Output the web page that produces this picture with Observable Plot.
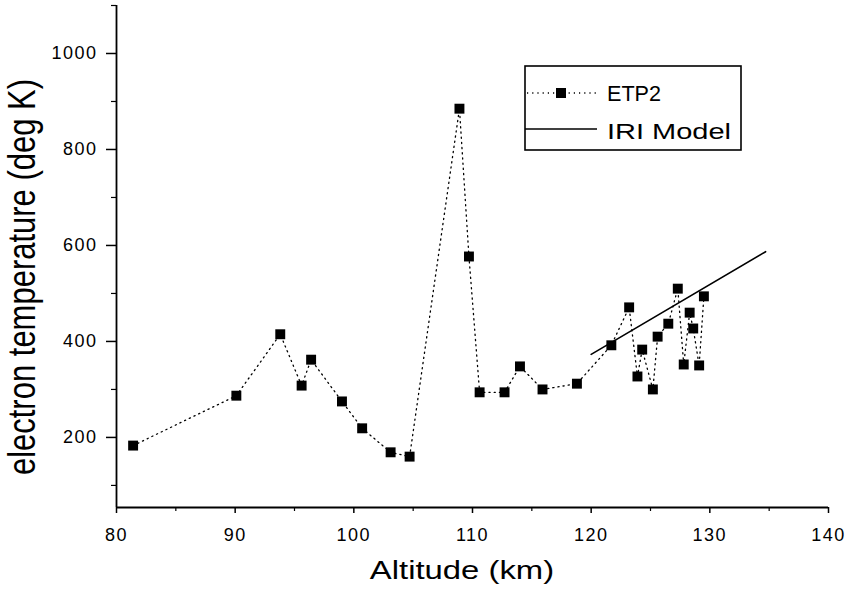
<!DOCTYPE html>
<html>
<head>
<meta charset="utf-8">
<script src="https://cdn.jsdelivr.net/npm/d3@7"></script>
<script src="https://cdn.jsdelivr.net/npm/@observablehq/plot@0.6"></script>
<style>
  html, body { margin: 0; padding: 0; background: white; }
  #chart { position: relative; width: 849px; height: 589px; }
</style>
</head>
<body>
<div id="chart"></div>
<script>
// ETP2 measurements
const altitude = [81.4, 90.1, 93.8, 95.6, 96.4, 99.0, 100.7, 103.1, 104.7, 108.9, 109.7, 110.6, 112.7, 114.0, 115.9, 118.8, 121.7, 123.2, 123.9, 124.3, 125.2, 125.6, 126.5, 127.3, 127.8, 128.3, 128.6, 129.1, 129.5];
const temperature = [183, 287, 415, 308, 362, 275, 219, 169, 160, 885, 577, 294, 294, 348, 300, 312, 392, 471, 327, 383, 300, 410, 437, 510, 352, 460, 427, 350, 494];
// IRI model
const iriAltitude = [120, 134.7];
const iriTemperature = [373, 587];
// ticks
const xTicks = [80, 90, 100, 110, 120, 130, 140];
const xMinor = [85, 95, 105, 115, 125, 135];
const yTicks = [200, 400, 600, 800, 1000];
const yMinor = [100, 300, 500, 700, 900, 1100];
const seriesNames = ["ETP2", "IRI Model"];
const xTitle = "Altitude (km)";
const yTitle = "electron temperature (deg K)";

const etp = altitude.map((a, i) => ({a, t: temperature[i]}));
const iri = iriAltitude.map((a, i) => ({a, t: iriTemperature[i]}));

const font = "'Liberation Sans', Arial, sans-serif";

const plot = Plot.plot({
  width: 849,
  height: 589,
  marginLeft: 116,
  marginRight: 21,
  marginTop: 5,
  marginBottom: 82,
  style: {fontFamily: font, background: "white", color: "black", overflow: "visible"},
  x: {domain: [80, 140]},
  y: {domain: [54, 1100]},
  marks: [
    Plot.axisX({ticks: xTicks, tickSize: 6, tickPadding: 15, fontSize: 18, tickFormat: d => String(d), label: null, strokeWidth: 1.5}),
    Plot.axisX({ticks: xMinor, tickSize: 4, tickFormat: () => "", label: null, strokeWidth: 1.2}),
    Plot.axisY({ticks: yTicks, tickSize: 10, tickPadding: 9, fontSize: 18, tickFormat: d => String(d), label: null, strokeWidth: 1.5}),
    Plot.axisY({ticks: yMinor, tickSize: 5, tickFormat: () => "", label: null, strokeWidth: 1.2}),
    Plot.ruleX([80], {strokeWidth: 1.8}),
    Plot.ruleY([54], {strokeWidth: 1.8}),
    Plot.line(etp, {x: "a", y: "t", stroke: "black", strokeWidth: 1.3, strokeDasharray: "1.2,4"}),
    Plot.line(iri, {x: "a", y: "t", stroke: "black", strokeWidth: 1.6}),
    Plot.dot(etp, {x: "a", y: "t", symbol: "square", r: 5.6, fill: "black", stroke: "none"})
  ]
});

const svg = d3.select(plot);
svg.selectAll("text").style("letter-spacing", "1.5px");

// axis titles (horizontally stretched like the scanned original)
svg.append("text")
  .attr("transform", "translate(462,579) scale(1.24,1)")
  .attr("text-anchor", "middle")
  .attr("font-family", font)
  .attr("font-size", 26.5)
  .attr("fill", "black")
  .text(xTitle);
svg.append("text")
  .attr("transform", "translate(35,277) scale(1.24,1) rotate(-90)")
  .attr("text-anchor", "middle")
  .attr("font-family", font)
  .attr("font-size", 31)
  .attr("fill", "black")
  .text(yTitle);

// legend
const lg = svg.append("g").attr("text-anchor", "start");
lg.append("rect").attr("x", 525).attr("y", 66).attr("width", 216).attr("height", 84)
  .attr("fill", "white").attr("stroke", "black").attr("stroke-width", 1.6);
lg.append("line").attr("x1", 527).attr("x2", 598).attr("y1", 93).attr("y2", 93)
  .attr("stroke", "black").attr("stroke-width", 1.3).attr("stroke-dasharray", "1.2,4");
lg.append("rect").attr("x", 556).attr("y", 88).attr("width", 10).attr("height", 10).attr("fill", "black");
lg.append("line").attr("x1", 525).attr("x2", 597).attr("y1", 129).attr("y2", 129)
  .attr("stroke", "black").attr("stroke-width", 1.6);
lg.append("text").attr("x", 607).attr("y", 101).attr("font-family", font).attr("font-size", 22)
  .attr("text-anchor", "start")
  .attr("textLength", 54).attr("lengthAdjust", "spacingAndGlyphs").attr("fill", "black").text(seriesNames[0]);
lg.append("text").attr("x", 607).attr("y", 139).attr("font-family", font).attr("font-size", 22)
  .attr("text-anchor", "start")
  .attr("textLength", 124).attr("lengthAdjust", "spacingAndGlyphs").attr("fill", "black").text(seriesNames[1]);

document.getElementById("chart").appendChild(plot);
</script>
</body>
</html>
